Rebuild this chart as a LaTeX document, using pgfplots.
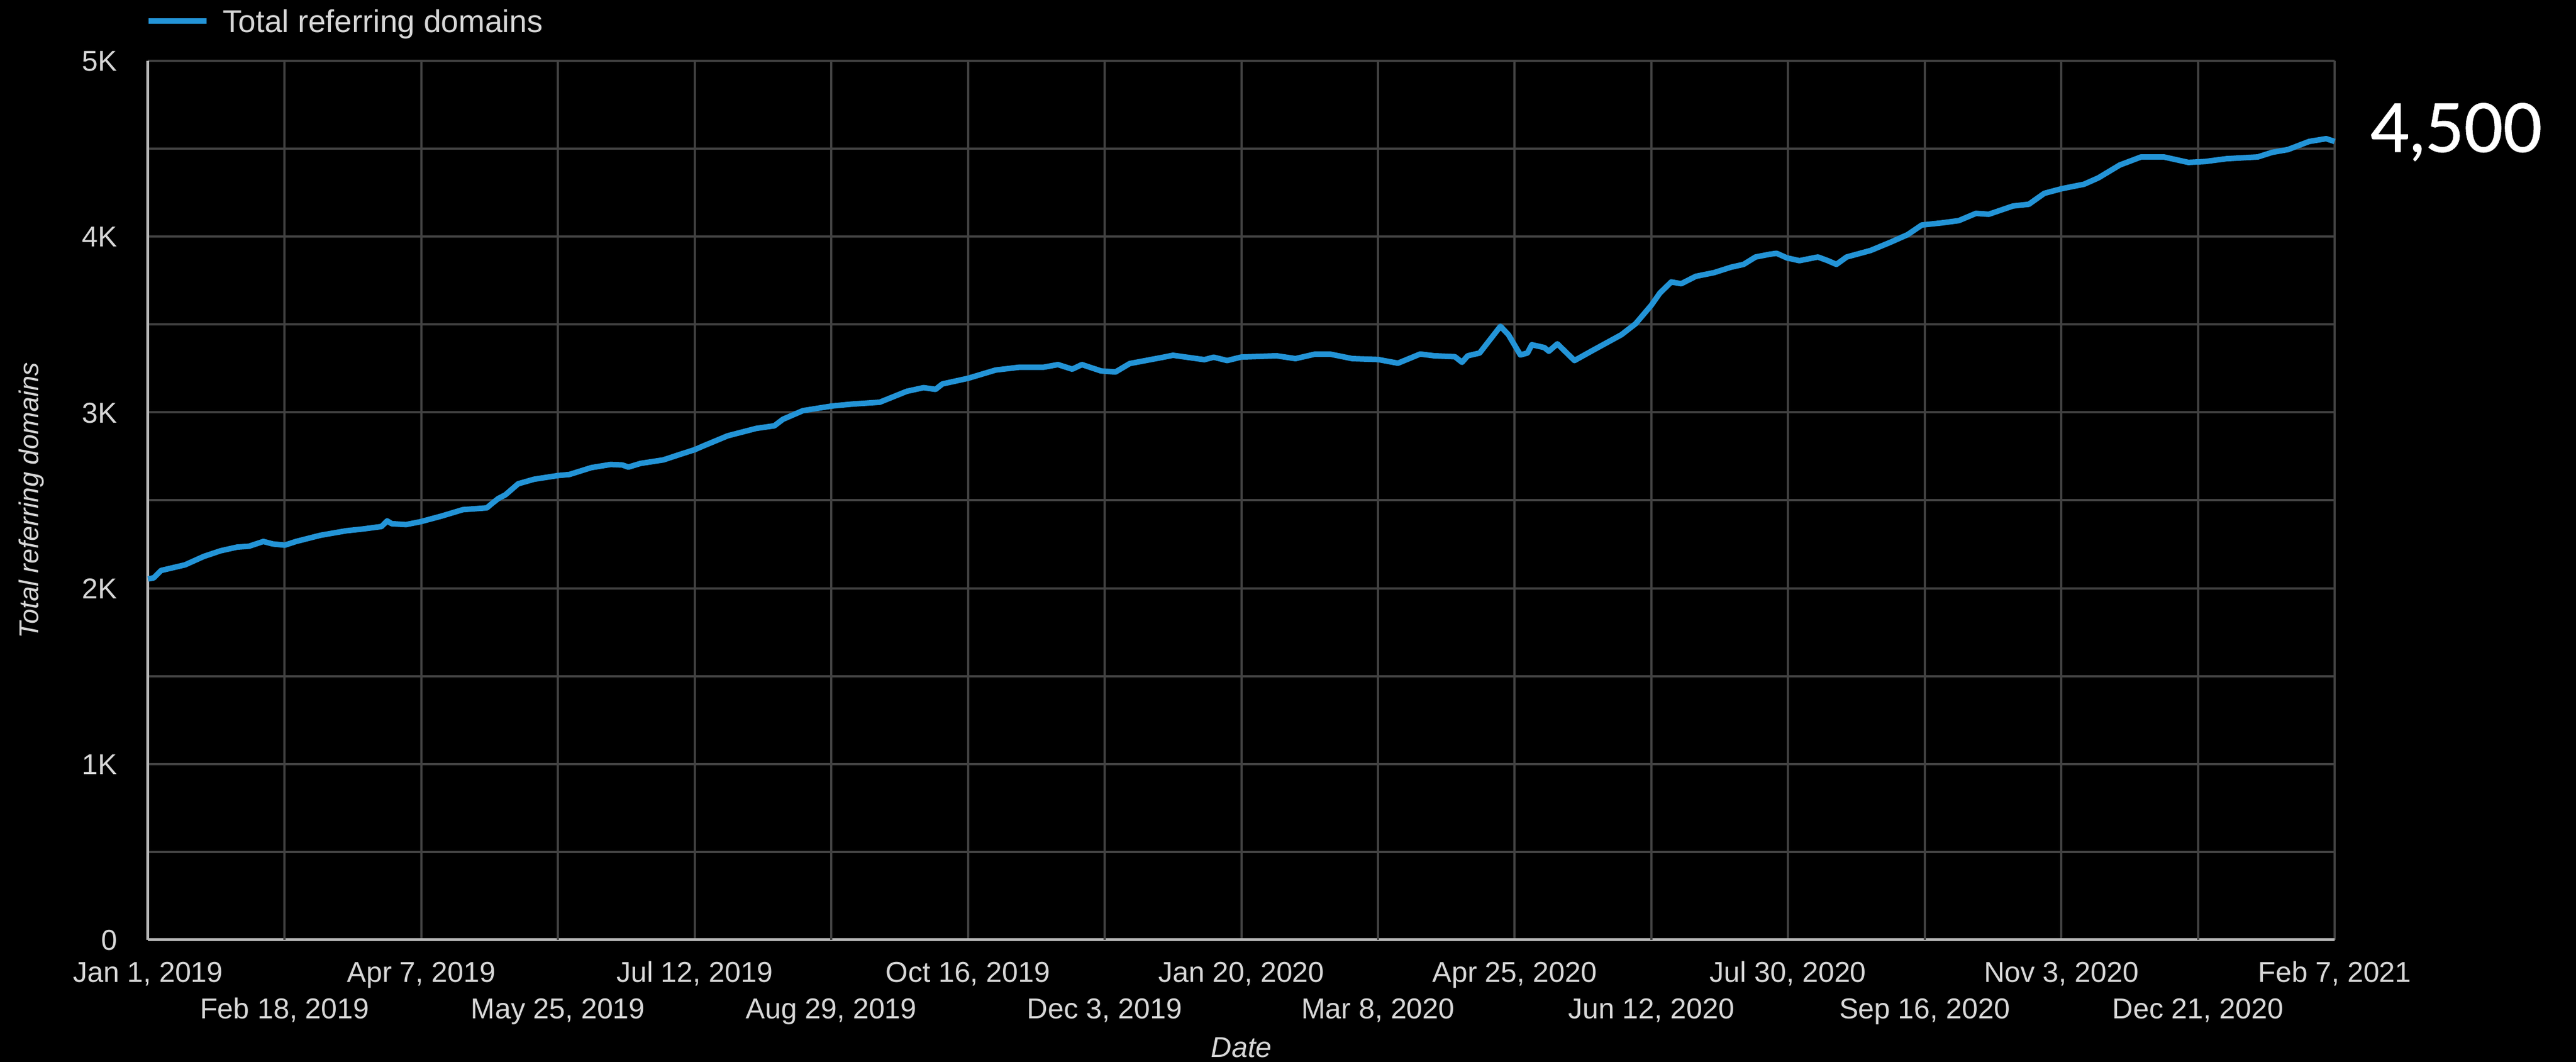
\documentclass[border=0pt]{standalone}
\usepackage{fontspec}
\setmainfont{Liberation Sans}
\newfontfamily\numfont[FakeBold=0.8]{Lato}
\usepackage{pgfplots}
\usepackage{pgfplotstable}
\pgfplotsset{compat=1.18}
\definecolor{txt}{RGB}{215,215,215}
\definecolor{gridc}{RGB}{66,66,66}
\definecolor{axisc}{RGB}{185,185,185}
\definecolor{linec}{RGB}{35,148,215}

\pgfplotstableread{
day value
0 2053
2 2059
4.6 2101
8.8 2117
13 2133
19.6 2181
25.5 2213
31.3 2234
35.5 2239
40.5 2266
43.8 2252
48 2245
52 2266
60.5 2301
69.7 2327
75.5 2337
82 2351
84 2383
85.6 2367
90.6 2362
95.6 2378
103 2410
110.6 2447
119 2457
120.6 2479
123 2510
125.5 2531
130 2594
135.6 2620
144 2641
148 2647
155.7 2686
162.5 2704
166.6 2701
168.7 2689
173 2710
181 2730
187 2762
192 2788
195 2809
203.6 2867
213.6 2909
220 2924
223 2961
230 3010
240 3036
247 3047
257 3058
266.5 3120
272.4 3141
276.6 3131
279 3162
288 3194
297.7 3241
306 3257
314.5 3257
319.6 3272
324.6 3246
328 3272
334.7 3236
339.8 3230
344.8 3278
356.6 3314
360 3325
371 3300
374.3 3314
379 3295
384 3315
396.4 3322
403 3306
410 3332
415 3332
423 3306
432 3301
439 3280
446.8 3332
451.8 3322
459 3317
461.5 3285
463.5 3322
467.7 3338
475 3490
477.8 3442
482 3327
484.5 3338
486 3385
490.4 3369
492 3348
495 3390
501 3295
508 3358
517.5 3442
522.5 3505
528 3610
531 3679
535 3742
538.5 3732
543.6 3774
550 3795
556 3826
560.4 3842
564.6 3884
569.7 3900
572 3905
575.6 3879
580 3863
586.5 3884
590 3863
593 3842
596.6 3884
605 3921
612 3968
618 4011
623 4066
630 4078
636 4091
642 4132
646.5 4127
655 4174
660.6 4184
666 4246
672 4272
680 4298
685 4334
692.5 4407
700 4453
708 4453
716.6 4422
722.5 4427
730 4443
741 4453
746 4479
751.6 4495
759 4541
765 4557
768 4541
}\domains

\begin{document}
\begin{tikzpicture}
\fill[black] (0,0) rectangle (466.4pt,192.2pt);
\begin{axis}[
  at={(26.8pt,22.1pt)}, anchor=south west,
  width=395.9pt, height=159.1pt, scale only axis,
  xmin=0, xmax=768, ymin=0, ymax=5000,
  clip=false,
  axis x line*=bottom, axis y line*=left,
  axis line style={-, draw=axisc, line width=0.5pt},
  xtick={0,96,...,768},
  xticklabels={{Jan 1, 2019},{Apr 7, 2019},{Jul 12, 2019},{Oct 16, 2019},{Jan 20, 2020},{Apr 25, 2020},{Jul 30, 2020},{Nov 3, 2020},{Feb 7, 2021}},
  extra x ticks={48,144,...,720},
  extra x tick labels={{Feb 18, 2019},{May 25, 2019},{Aug 29, 2019},{Dec 3, 2019},{Mar 8, 2020},{Jun 12, 2020},{Sep 16, 2020},{Dec 21, 2020}},
  extra x tick style={grid=major, xticklabel style={yshift=-6.6pt}},
  ytick={0,1000,...,5000},
  yticklabels={0,1K,2K,3K,4K,5K},
  minor ytick={500,1500,...,4500},
  xmajorgrids, ymajorgrids, yminorgrids,
  major grid style={draw=gridc, line width=0.4pt},
  minor grid style={draw=gridc, line width=0.4pt},
  major tick length=0pt, minor tick length=0pt,
  tick style={draw=none},
  /pgf/number format/assume math mode=true,
  xticklabel style={font=\fontsize{5.2}{6}\selectfont, text=txt, anchor=north, inner sep=0pt, text height=3.75pt, text depth=0pt, yshift=-3.7pt},
  yticklabel style={font=\fontsize{5.2}{6}\selectfont, text=txt, anchor=east, inner sep=0pt, text height=3.75pt, text depth=0pt, xshift=-5.4pt},
  xlabel={Date},
  xlabel style={font=\itshape\fontsize{5.2}{6}\selectfont, text=txt, at={(axis description cs:0.5,-0.1226)}, anchor=center, inner sep=0pt},
  ylabel={Total referring domains},
  ylabel style={font=\itshape\fontsize{4.9}{6}\selectfont, text=txt, at={(axis description cs:-0.0533,0.5)}, anchor=center, inner sep=0pt},
  legend style={at={(axis description cs:-0.001,1.0453)}, anchor=west, draw=none, fill=none, inner sep=0pt, outer sep=0pt, font=\fontsize{5.7}{6.5}\selectfont, text=txt, nodes={inner sep=0pt, text height=4.1pt, text depth=0pt}, /tikz/every odd column/.append style={column sep=2.4pt}},
  legend cell align=left,
  legend image code/.code={\draw[#1, line width=1.0pt] (0pt,0pt) -- (10.5pt,0pt);},
]
\addplot[color=linec, line width=1.0pt, line join=round] table[x=day, y=value] {\domains};
\addlegendentry{Total referring domains}
\node[anchor=west, inner sep=0pt, text=white, font=\numfont\fontsize{12.2}{14}\selectfont, text height=8.8pt, text depth=0pt] at (rel axis cs:1.0159,0.924) {4,500};
\end{axis}
\pgfresetboundingbox
\path[use as bounding box] (0,0) rectangle (466.4pt,192.2pt);
\end{tikzpicture}
\end{document}
